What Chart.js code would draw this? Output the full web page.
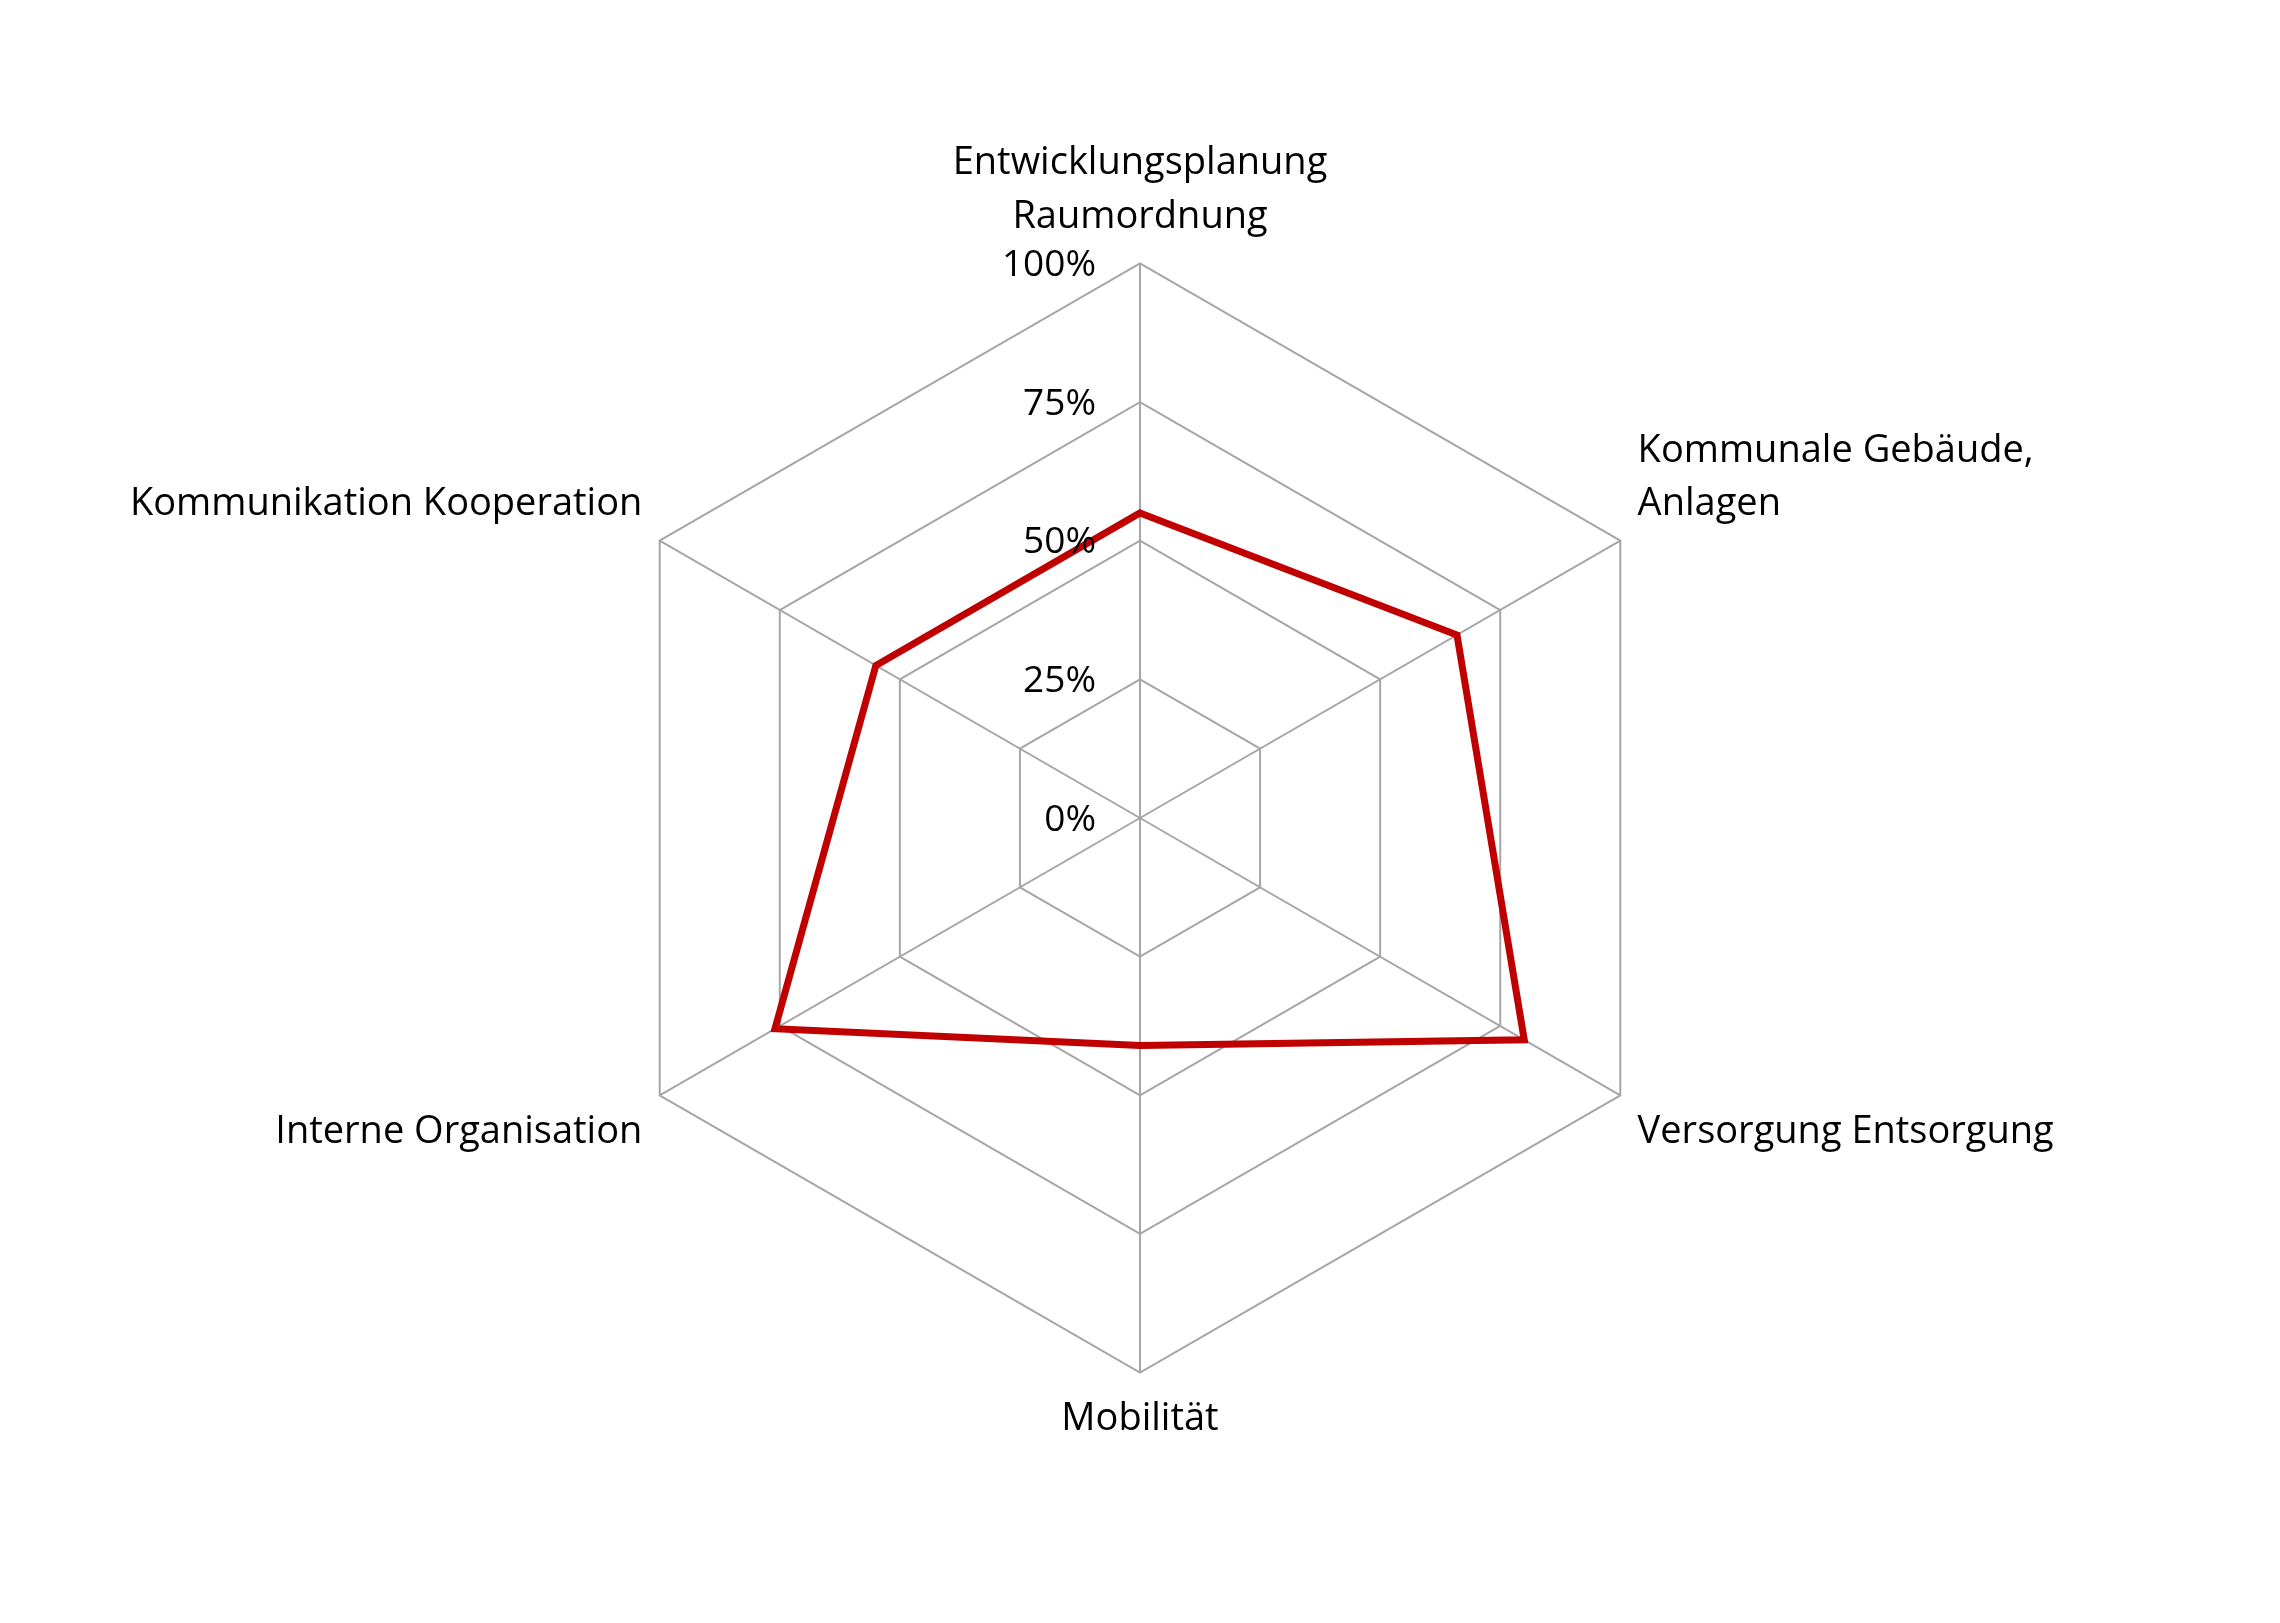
<!DOCTYPE html>
<html><head><meta charset="utf-8">
<script src="https://cdn.jsdelivr.net/npm/chart.js@4"></script>
<style>html,body{margin:0;background:#fff}#w{width:2280px;height:1623px}</style>
</head><body><div id="w"><canvas id="c"></canvas></div>
<script>
const categories=[["Entwicklungsplanung","Raumordnung"],["Kommunale Gebäude,","Anlagen"],"Versorgung Entsorgung","Mobilität","Interne Organisation","Kommunikation Kooperation"];
const values=[55,66,80,41,76,55];
const tickLabels=["0%","25%","50%","75%","100%"];
const tickPlugin={id:'tk',afterDatasetsDraw(ch){const s=ch.scales.r,ctx=ch.ctx;ctx.save();ctx.font='37px "Open Sans"';ctx.fillStyle='#000';ctx.textAlign='right';ctx.textBaseline='middle';
tickLabels.forEach((t,i)=>{const d=s.getDistanceFromCenterForValue(i*25);ctx.fillText(t,s.xCenter-44,s.yCenter-d+2);});ctx.restore();}};
new Chart(document.getElementById('c'),{type:'radar',data:{labels:categories,datasets:[{data:values,borderColor:'#C00000',borderWidth:7,pointRadius:0,fill:false,tension:0}]},
options:{responsive:true,maintainAspectRatio:false,animation:false,layout:{padding:{top:110,bottom:150,left:20,right:20}},
plugins:{legend:{display:false},tooltip:{enabled:false}},
scales:{r:{min:0,max:100,ticks:{display:false,stepSize:25},grid:{color:'#a6a6a6',lineWidth:2},angleLines:{color:'#a6a6a6',lineWidth:2},
pointLabels:{font:{family:'Open Sans',size:38,lineHeight:1.4},color:'#000',padding:20}}}},plugins:[tickPlugin]});
</script></body></html>
